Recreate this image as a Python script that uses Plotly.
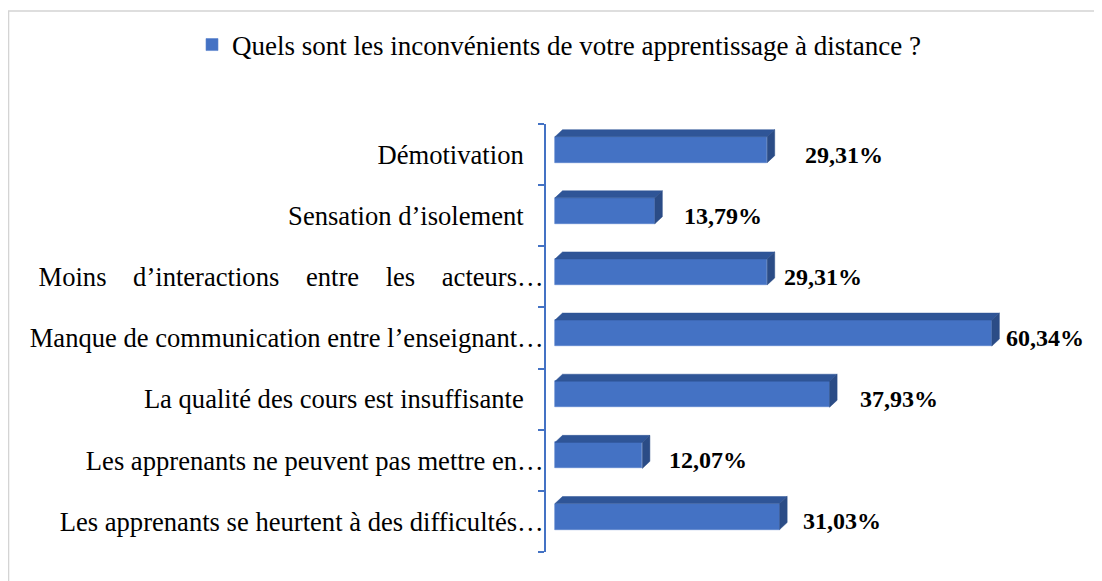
import plotly.graph_objects as go

# ---- data (top to bottom as shown) ----
categories = [
    "Démotivation",
    "Sensation d’isolement",
    "Moins d’interactions entre les acteurs…",
    "Manque de communication entre l’enseignant…",
    "La qualité des cours est insuffisante",
    "Les apprenants ne peuvent pas mettre en…",
    "Les apprenants se heurtent à des difficultés…",
]
values = [29.31, 13.79, 29.31, 60.34, 37.93, 12.07, 31.03]
value_labels = ["29,31%", "13,79%", "29,31%", "60,34%", "37,93%", "12,07%", "31,03%"]
series_name = "Quels sont les inconvénients de votre apprentissage à distance ?"

# ---- styling ----
FRONT = "#4472C4"
TOP = "#2F5597"
SIDE = "#2B4C86"
AXIS = "#4472C4"
FONT = "Liberation Serif, Times New Roman, serif"
NB = "\u00a0"
PAGE = 8  # default body margin of the html page

# display labels (justified / padded like the original)
def display_label(s):
    if s.startswith("Moins"):
        return (NB * 3 + " ").join(s.split(" "))
    if not s.endswith("…"):
        return s + NB * 3
    return s

# bottom-to-top order for numeric axis
cats_bt = categories[::-1]
vals_bt = values[::-1]
labs_bt = value_labels[::-1]
label_gap_px = [28, 20, 7, 5, 21, 17, 14][::-1]

n = len(cats_bt)
bar_h = 0.425      # front face thickness (category units)
bar_off = 0.08     # front face shifted up from category centre
dx = 1.04          # 3-D depth in x units
dy = 0.115         # 3-D depth in category units

centers = [i + bar_off for i in range(n)]

fig = go.Figure()

# front faces
fig.add_trace(go.Bar(
    x=vals_bt, y=centers, orientation="h", width=bar_h,
    marker=dict(color=FRONT, line=dict(color="#5B83CC", width=0.6)),
    name=series_name, showlegend=True, hoverinfo="skip",
))

# top and side faces
tx, ty = [], []
sx, sy = [], []
for c, v in zip(centers, vals_bt):
    t = c + bar_h / 2
    b = c - bar_h / 2
    tx += [0, dx, v + dx, v, 0, None]
    ty += [t, t + dy, t + dy, t, t, None]
    sx += [v, v, v + dx, v + dx, v, None]
    sy += [b, t, t + dy, b + dy, b, None]

fig.add_trace(go.Scatter(x=tx, y=ty, mode="lines", fill="toself",
                         fillcolor=TOP, line=dict(color=TOP, width=0.5),
                         showlegend=False, hoverinfo="skip"))
fig.add_trace(go.Scatter(x=sx, y=sy, mode="lines", fill="toself",
                         fillcolor=SIDE, line=dict(color=SIDE, width=0.5),
                         showlegend=False, hoverinfo="skip"))

# value labels
for i, (v, lab, g) in enumerate(zip(vals_bt, labs_bt, label_gap_px)):
    fig.add_annotation(x=v + dx, y=i, text=f"<b>{lab}</b>", showarrow=False,
                       xanchor="left", yanchor="middle", xshift=g,
                       font=dict(family=FONT, size=24, color="black"))

# outer chart border
fig.add_shape(type="rect", xref="paper", yref="paper",
              x0=-0.988, x1=1.1, y0=-0.15, y1=1.264,
              line=dict(color="#D4D4D4", width=1.5), fillcolor="rgba(0,0,0,0)",
              layer="below")

fig.update_layout(
    width=1102, height=581,
    margin=dict(l=546 - PAGE, r=12 + PAGE, t=124 - PAGE, b=29 + PAGE),
    paper_bgcolor="white", plot_bgcolor="white",
    font=dict(family=FONT, size=27, color="black"),
    showlegend=True,
    legend=dict(orientation="h", xref="container", yref="container",
                x=(192 - PAGE) / 1102, xanchor="left",
                y=1 - (47 - PAGE - 2) / 581, yanchor="middle",
                font=dict(family=FONT, size=27, color="black"),
                bgcolor="rgba(0,0,0,0)"),
    bargap=0,
)

fig.update_xaxes(range=[-1.24, 73.9], visible=False, fixedrange=True)
fig.update_yaxes(
    range=[-0.5, n - 0.5], tickmode="array", tickvals=list(range(n)),
    ticktext=[display_label(c) for c in cats_bt],
    ticks="", showline=True, linecolor=AXIS, linewidth=2,
    showgrid=False, zeroline=False,
    tickfont=dict(family=FONT, size=26.6, color="black"),
    ticklabelstandoff=-5,
    minor=dict(tickmode="linear", tick0=-0.5, dtick=1, ticks="outside",
               ticklen=6, tickwidth=2, tickcolor=AXIS, showgrid=False),
    fixedrange=True,
)

fig.write_html("out.html")
